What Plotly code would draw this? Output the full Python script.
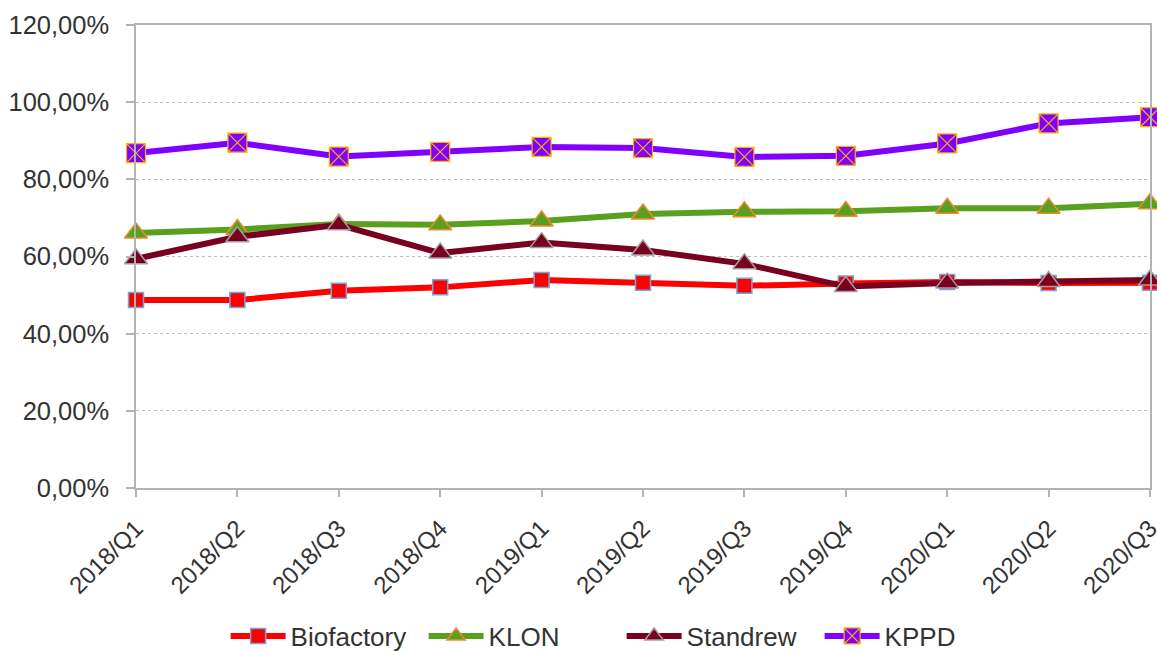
import plotly.graph_objects as go

categories = ["2018/Q1", "2018/Q2", "2018/Q3", "2018/Q4", "2019/Q1", "2019/Q2",
              "2019/Q3", "2019/Q4", "2020/Q1", "2020/Q2", "2020/Q3"]
biofactory = [48.7, 48.7, 51.1, 52.0, 53.9, 53.2, 52.4, 53.0, 53.4, 53.1, 53.2]
klon = [66.1, 67.0, 68.4, 68.2, 69.2, 71.0, 71.6, 71.7, 72.5, 72.5, 73.7]
standrew = [59.4, 65.1, 68.2, 60.9, 63.6, 61.7, 58.1, 52.2, 53.1, 53.5, 53.9]
kppd = [86.8, 89.5, 85.9, 87.1, 88.4, 88.1, 85.8, 86.1, 89.3, 94.5, 96.1]

ytick_vals = [0, 20, 40, 60, 80, 100, 120]
ytick_text = ["0,00%", "20,00%", "40,00%", "60,00%", "80,00%", "100,00%", "120,00%"]

FONT = "Liberation Sans, Arial, sans-serif"

series = [
    ("Biofactory", biofactory, "#ff0000", "square", 15, "#6fa8dc", 1.5),
    ("KLON", klon, "#58a01e", "triangle-up", 20, "#f08a30", 1.5),
    ("Standrew", standrew, "#7a0020", "triangle-up", 20, "#a0a0a0", 1.5),
    ("KPPD", kppd, "#8000ff", "square-x", 19, "#ffb000", 1.2),
]

fig = go.Figure()
for name, vals, color, sym, size, lc, lw in series:
    fig.add_trace(go.Scatter(
        x=categories, y=vals, name=name, mode="lines+markers",
        line=dict(color=color, width=6),
        marker=dict(symbol=sym, size=size, color=color, line=dict(color=lc, width=lw)),
        cliponaxis=False,
    ))

fig.update_layout(
    width=1157, height=651,
    margin=dict(l=136, r=7, t=25, b=163),
    paper_bgcolor="white", plot_bgcolor="white",
    font=dict(family=FONT, size=25, color="#333333"),
    showlegend=True,
    legend=dict(orientation="h", xref="container", yref="container",
                x=0.195, xanchor="left", y=0.023, yanchor="middle",
                font=dict(size=26, color="#333333"), itemwidth=55,
                entrywidth=128, entrywidthmode="pixels",
                bgcolor="rgba(0,0,0,0)", borderwidth=0),
)
fig.update_xaxes(
    type="category", range=[0, 10], tickangle=-45, automargin=False,
    showline=True, linecolor="#b3b3b3", linewidth=1.5, mirror=True,
    ticks="outside", ticklen=7, tickcolor="#b3b3b3", tickwidth=1.5,
    ticklabelstandoff=8,
    showgrid=False, tickfont=dict(size=24, color="#333333"),
)
fig.update_yaxes(
    range=[0, 120], tickvals=ytick_vals, ticktext=ytick_text, automargin=False,
    showline=True, linecolor="#b3b3b3", linewidth=1.5, mirror=True,
    ticks="outside", ticklen=8, tickcolor="#b3b3b3", tickwidth=1.5,
    ticklabelstandoff=12,
    showgrid=True, gridcolor="#bdbdbd", griddash="dot", gridwidth=1,
    zeroline=False, tickfont=dict(size=25.5, color="#333333"),
)

fig.write_html("out.html")
